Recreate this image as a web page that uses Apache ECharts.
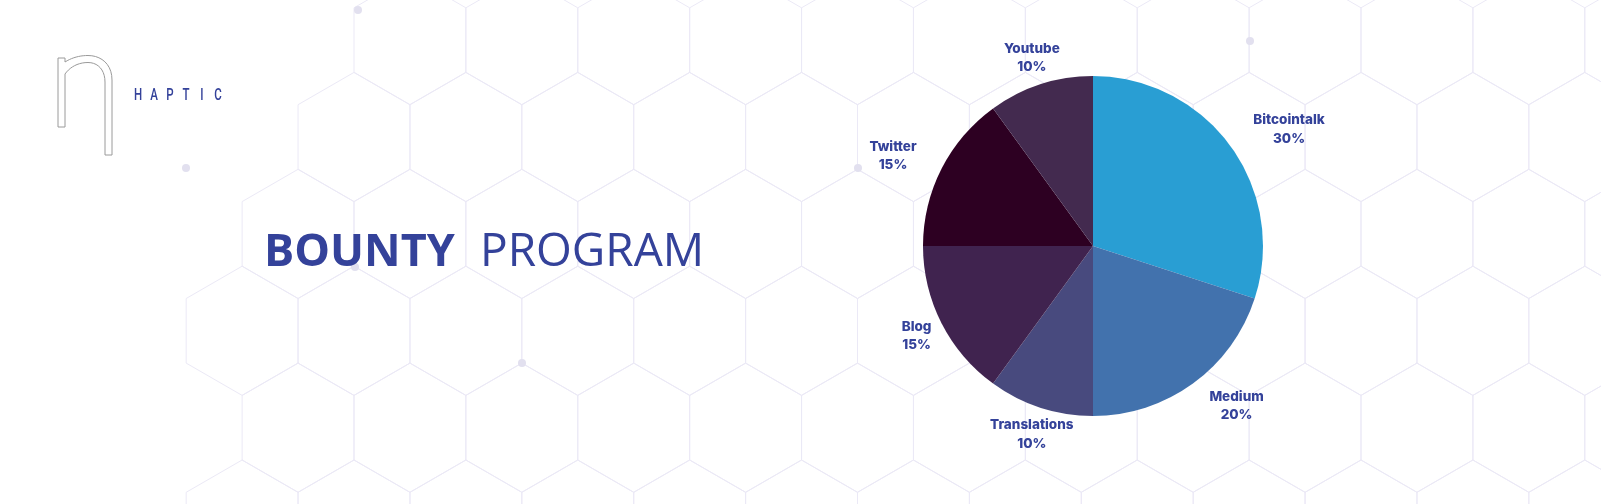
<!DOCTYPE html>
<html>
<head>
<meta charset="utf-8">
<script src="https://cdn.jsdelivr.net/npm/echarts@6/dist/echarts.min.js"></script>
<style>
html,body{margin:0;padding:0;background:#ffffff;}
#chart{width:1601px;height:504px;}
</style>
</head>
<body>
<div id="chart"></div>
<script>
// ---- data ----
const categories = ['Bitcointalk', 'Medium', 'Translations', 'Blog', 'Twitter', 'Youtube'];
const shares = [30, 20, 10, 15, 15, 10];
const titleBold = 'BOUNTY';
const titleRegular = 'PROGRAM';
const brand = 'HAPTIC';

// ---- styles ----
const sliceColors = ['#299ed3', '#4272ad', '#484a7e', '#40234f', '#2d0022', '#432a4f'];
const labelAlign = ['left', 'left', 'center', 'center', 'right', 'center'];
const ink = '#34429a';
const gridColor = '#ebe9f6';
const dotColor = '#e2e0ef';

const chart = echarts.init(document.getElementById('chart'), null, {renderer: 'canvas'});

// decorative honeycomb background
const s = 64.6, w = s * Math.sqrt(3);
const bg = [];
for (let r = -1; r <= 5; r++) {
  for (let i = -3; i <= 12; i++) {
    const cx = 354 + w * i + (Math.abs(r) % 2 ? w / 2 : 0);
    const cy = 137 + 1.5 * s * r;
    if (cx - w / 2 < 180) continue;
    if (cx < 300 && cy < 140) continue;
    bg.push({
      type: 'polygon', z: 0, silent: true,
      shape: {points: [[cx, cy - s], [cx + w / 2, cy - s / 2], [cx + w / 2, cy + s / 2], [cx, cy + s], [cx - w / 2, cy + s / 2], [cx - w / 2, cy - s / 2]]},
      style: {fill: 'none', stroke: gridColor, lineWidth: 1}
    });
  }
}
[[358, 10], [186, 168], [858, 168], [522, 363], [1250, 41], [355, 267]].forEach(p => {
  bg.push({type: 'circle', z: 1, silent: true, shape: {cx: p[0], cy: p[1], r: 4}, style: {fill: dotColor}});
});

// logo outline (decoration)
function bez(p0, p1, p2, p3, n) {
  const out = [];
  for (let k = 1; k <= n; k++) {
    const t = k / n, u = 1 - t;
    out.push([u*u*u*p0[0] + 3*u*u*t*p1[0] + 3*u*t*t*p2[0] + t*t*t*p3[0],
              u*u*u*p0[1] + 3*u*u*t*p1[1] + 3*u*t*t*p2[1] + t*t*t*p3[1]]);
  }
  return out;
}
let logo = [[58, 127], [58, 58], [65, 58], [65, 62]];
logo = logo.concat(bez([65, 62], [72, 57.5], [80, 55.5], [88, 55.5], 10));
logo = logo.concat(bez([88, 55.5], [101, 55.5], [112, 64], [112, 80], 10));
logo.push([112, 155], [105, 155], [105, 82]);
logo = logo.concat(bez([105, 82], [105, 70], [98, 62.5], [88, 62.5], 10));
logo = logo.concat(bez([88, 62.5], [78, 62.5], [70, 67], [65, 74], 10));
logo.push([65, 127]);
bg.push({
  type: 'polygon', z: 1, silent: true,
  shape: {points: logo},
  style: {fill: '#ffffff', stroke: '#9a9a9a', lineWidth: 1}
});
brand.split('').forEach((ch, k) => {
  bg.push({
    type: 'text', z: 1, silent: true, x: 138 + 16 * k, y: 96, scaleX: 0.72,
    style: {text: ch, fill: ink, font: '500 16px Roboto', align: 'center', verticalAlign: 'middle'}
  });
});

// title
bg.push({
  type: 'text', z: 1, silent: true, x: 264, y: 253,
  style: {text: titleBold, fill: ink, font: '700 45px "Open Sans"', align: 'left', verticalAlign: 'middle'}
});
bg.push({
  type: 'text', z: 1, silent: true, x: 480, y: 253,
  style: {text: titleRegular, fill: ink, font: '400 46px "Open Sans"', align: 'left', verticalAlign: 'middle'}
});

chart.setOption({
  animation: false,
  backgroundColor: '#ffffff',
  graphic: {elements: bg},
  series: [{
    type: 'pie',
    z: 10,
    center: [1093, 246],
    radius: 170,
    startAngle: 90,
    clockwise: true,
    avoidLabelOverlap: false,
    silent: true,
    data: categories.map((c, i) => ({name: c, value: shares[i], itemStyle: {color: sliceColors[i]}})),
    itemStyle: {borderWidth: 0},
    label: {
      show: true,
      position: 'outside',
      formatter: p => p.name + '\n' + p.percent + '%',
      color: ink,
      fontFamily: 'Inter',
      fontWeight: 800,
      fontSize: 13.5,
      lineHeight: 18.5,
      distanceToLabelLine: 0
    },
    labelLine: {show: false, length: 28, length2: 0},
    labelLayout: function (params) {
      const rect = params.labelRect;
      const center = 1093;
      const onLeft = rect.x + rect.width / 2 < center;
      const a = labelAlign[params.dataIndex];
      let cx;
      if (a === 'center') cx = onLeft ? rect.x + rect.width : rect.x;
      else cx = rect.x + rect.width / 2;
      return {x: cx, y: rect.y + rect.height / 2, align: 'center', verticalAlign: 'middle'};
    }
  }]
});
</script>
</body>
</html>
